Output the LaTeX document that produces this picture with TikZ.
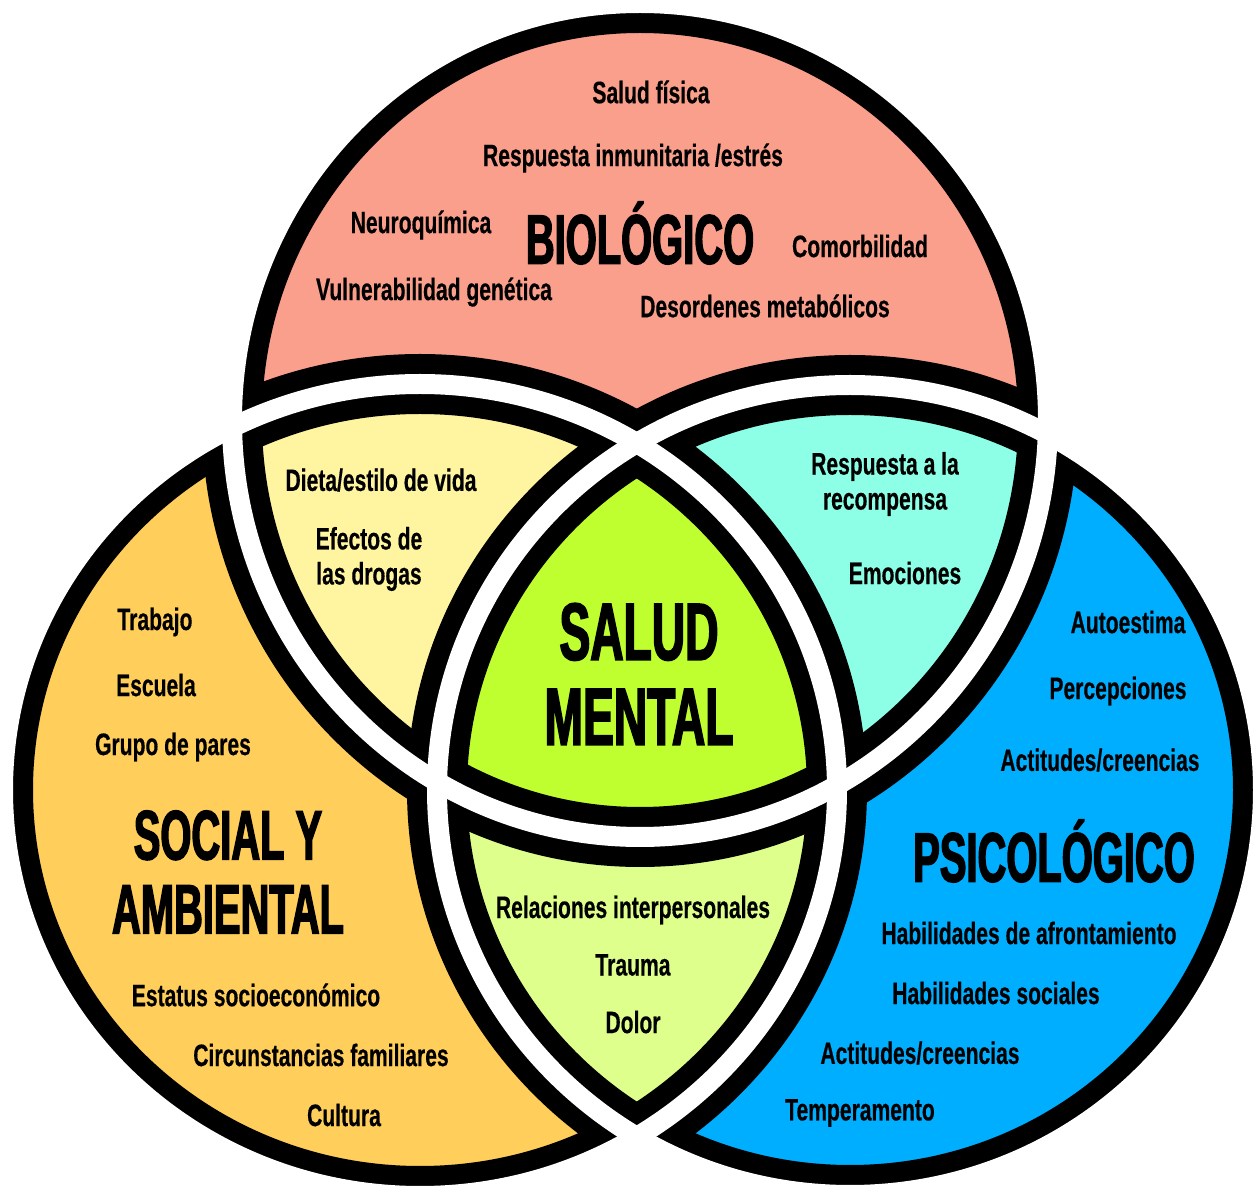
\documentclass[tikz,border=0pt]{standalone}
\usepackage{fontspec}
\newfontfamily\bodyf[FakeStretch=0.68,FakeBold=0.4]{Liberation Sans}
\newfontfamily\titlef[FakeStretch=0.57,FakeBold=2]{Liberation Sans}
\definecolor{biocol}{RGB}{250,159,139}
\definecolor{soccol}{RGB}{255,206,91}
\definecolor{psycol}{RGB}{0,174,255}
\definecolor{yelcol}{RGB}{255,245,160}
\definecolor{cyancol}{RGB}{140,255,230}
\definecolor{limecol}{RGB}{222,255,140}
\definecolor{greencol}{RGB}{191,255,47}
\begin{document}
\begin{tikzpicture}[x=0.5pt,y=-0.5pt,
  txt/.style={font=\bodyf\bfseries\fontsize{15.5pt}{17.5pt}\selectfont, inner sep=0pt, align=center},
  ttl/.style={font=\titlef\bfseries\fontsize{35pt}{35pt}\selectfont, inner sep=0pt, align=center},
  bigttl/.style={font=\titlef\bfseries\fontsize{40.5pt}{40.5pt}\selectfont, inner sep=0pt, align=center},
  band/.style={draw=black, line width=30pt},
  gap/.style={draw=white, line width=10pt}
]
\useasboundingbox (0,0) rectangle (1255,1197);
% region fills
\fill[biocol] (640,420) ellipse [x radius=204pt, y radius=208.5pt];
\fill[soccol] (420,790) ellipse [x radius=208.5pt, y radius=203pt];
\fill[psycol] (850,790) ellipse [x radius=206.5pt, y radius=202.5pt];
\begin{scope}
  \clip (640,420) ellipse [x radius=204pt, y radius=208.5pt];
  \fill[yelcol] (420,790) ellipse [x radius=208.5pt, y radius=203pt];
\end{scope}
\begin{scope}
  \clip (640,420) ellipse [x radius=204pt, y radius=208.5pt];
  \fill[cyancol] (850,790) ellipse [x radius=206.5pt, y radius=202.5pt];
\end{scope}
\begin{scope}
  \clip (420,790) ellipse [x radius=208.5pt, y radius=203pt];
  \fill[limecol] (850,790) ellipse [x radius=206.5pt, y radius=202.5pt];
\end{scope}
\begin{scope}
  \clip (640,420) ellipse [x radius=204pt, y radius=208.5pt];
  \clip (420,790) ellipse [x radius=208.5pt, y radius=203pt];
  \fill[greencol] (850,790) ellipse [x radius=206.5pt, y radius=202.5pt];
\end{scope}
% outlines
\begin{scope}
  \clip (640,420) ellipse [x radius=204pt, y radius=208.5pt]
        (420,790) ellipse [x radius=208.5pt, y radius=203pt]
        (850,790) ellipse [x radius=206.5pt, y radius=202.5pt];
  \path[band] (640,420) ellipse [x radius=204pt, y radius=208.5pt];
  \path[band] (420,790) ellipse [x radius=208.5pt, y radius=203pt];
  \path[band] (850,790) ellipse [x radius=206.5pt, y radius=202.5pt];
\end{scope}
% white gaps (also hide the clip edge)
\path[gap] (640,420) ellipse [x radius=204pt, y radius=208.5pt];
\path[gap] (420,790) ellipse [x radius=208.5pt, y radius=203pt];
\path[gap] (850,790) ellipse [x radius=206.5pt, y radius=202.5pt];
% biological
\node[txt] (b1) at (651,92) {Salud física};
\node[txt] (b2) at (633,158) {Respuesta inmunitaria /estrés};
\node[txt] (b3) at (421,225) {Neuroquímica};
\node[ttl] (bt) at (640,233) {BIOLÓGICO};
\node[txt] (b4) at (860,246) {Comorbilidad};
\node[txt] (b5) at (434,292) {Vulnerabilidad genética};
\node[txt] (b6) at (765,306) {Desordenes metabólicos};
% yellow lens
\node[txt] (y1) at (381,480) {Dieta/estilo de vida};
\node[txt] (y2) at (369,559) {Efectos de\\las drogas};
% cyan lens
\node[txt] (c1) at (885,484) {Respuesta a la\\recompensa};
\node[txt] (c2) at (905,573) {Emociones};
% centre
\node[bigttl] (m1) at (639,674) {SALUD\\[2pt]MENTAL};
% social
\node[txt] (s1) at (155,622) {Trabajo};
\node[txt] (s2) at (156,685) {Escuela};
\node[txt] (s3) at (173,747) {Grupo de pares};
\node[ttl] (st) at (228,872) {SOCIAL Y\\[2pt]AMBIENTAL};
\node[txt] (s4) at (256,995) {Estatus socioeconómico};
\node[txt] (s5) at (321,1055) {Circunstancias familiares};
\node[txt] (s6) at (344,1115) {Cultura};
% bottom lens
\node[txt] (l1) at (633,910) {Relaciones interpersonales};
\node[txt] (l2) at (633,965) {Trauma};
\node[txt] (l3) at (633,1022) {Dolor};
% psychological
\node[txt] (p1) at (1128,622) {Autoestima};
\node[txt] (p2) at (1118,691) {Percepciones};
\node[txt] (p3) at (1100,760) {Actitudes/creencias};
\node[ttl] (pt) at (1054,851) {PSICOLÓGICO};
\node[txt] (p4) at (1029,933) {Habilidades de afrontamiento};
\node[txt] (p5) at (996,993) {Habilidades sociales};
\node[txt] (p6) at (920,1053) {Actitudes/creencias};
\node[txt] (p7) at (860,1113) {Temperamento};
\end{tikzpicture}
\end{document}
